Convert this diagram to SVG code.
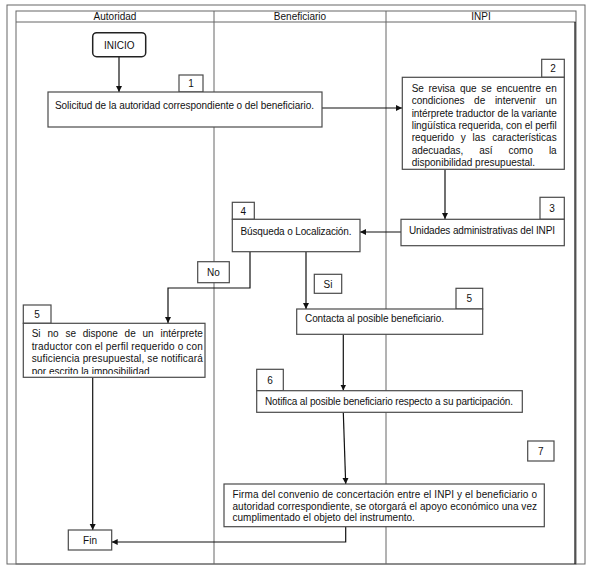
<svg xmlns="http://www.w3.org/2000/svg" width="590" height="568" viewBox="0 0 590 568">
<style>
text{font-family:"Liberation Sans",Arial,sans-serif;font-size:10px;fill:#111}
.c{text-anchor:middle}
.box{fill:#fff;stroke:#4a4a4a;stroke-width:1.2}
.frame{fill:none;stroke:#666;stroke-width:1}
.ln{fill:none;stroke:#111;stroke-width:1.2}
.conn{fill:none;stroke:#111;stroke-width:1.2;marker-end:url(#ah)}
</style>
<defs>
<marker id="ah" markerUnits="userSpaceOnUse" markerWidth="7" markerHeight="7" refX="6" refY="3" orient="auto">
<path d="M0,0 L6,3 L0,6 z" fill="#111"/>
</marker>
<clipPath id="clip5"><rect x="23" y="323" width="182" height="51"/></clipPath>
</defs>
<rect width="590" height="568" fill="#fff"/>
<g id="frame">
<rect class="frame" x="7" y="5" width="578" height="559"/>
<rect class="frame" x="16" y="11" width="560" height="553"/>
<line class="frame" x1="16" y1="22" x2="576" y2="22"/>
<line class="ln" x1="575" y1="22" x2="575" y2="564" stroke-width="1"/>
<line class="frame" x1="214" y1="11" x2="214" y2="564" stroke="#444"/>
<line class="frame" x1="386" y1="11" x2="386" y2="564" stroke="#444"/>
<text class="c" x="115" y="20">Autoridad</text>
<text class="c" x="300" y="20">Beneficiario</text>
<text class="c" x="481" y="20">INPI</text>
</g>
<g id="connectors">
<line class="conn" x1="119" y1="57" x2="119" y2="92"/>
<line class="conn" x1="322" y1="108" x2="402" y2="108"/>
<line class="conn" x1="445" y1="169.5" x2="445" y2="219"/>
<line class="conn" x1="401" y1="232" x2="360" y2="232"/>
<polyline class="conn" points="250,252 250,288 168,288 168,323"/>
<line class="conn" x1="306" y1="252" x2="306" y2="309"/>
<line class="conn" x1="343.3" y1="334.5" x2="343.3" y2="390.5"/>
<line class="conn" x1="343.3" y1="412.5" x2="345.7" y2="484"/>
<polyline class="conn" points="345.7,527 345.7,542 111.7,542"/>
<line class="conn" x1="92.7" y1="377.5" x2="92.7" y2="530"/>
</g>
<g id="inicio">
<rect x="92.7" y="32.7" width="53" height="24" rx="4" fill="#fff" stroke="#222" stroke-width="1.5"/>
<text class="c" x="119.2" y="48.5">INICIO</text>
</g>
<g id="n1">
<rect class="box" x="179" y="75" width="24" height="17"/>
<text class="c" x="191" y="87">1</text>
<rect class="box" x="48" y="92" width="274" height="35"/>
<text x="55" y="108.5" textLength="259" lengthAdjust="spacing">Solicitud de la autoridad correspondiente o del beneficiario.</text>
</g>
<g id="n2">
<rect class="box" x="541.7" y="59.3" width="22.6" height="18"/>
<text class="c" x="553" y="72">2</text>
<rect class="box" x="402.3" y="77.3" width="162" height="92"/>
<text y="91.8"><tspan x="411.7">Se</tspan><tspan x="428.5">revisa</tspan><tspan x="459.9">que</tspan><tspan x="481.2">se</tspan><tspan x="496.5">encuentre</tspan><tspan x="545.6">en</tspan></text>
<text y="104.2"><tspan x="411.7">condiciones</tspan><tspan x="474.1">de</tspan><tspan x="494.9">intervenir</tspan><tspan x="545.6">un</tspan></text>
<text x="411.7" y="116.6" textLength="145" lengthAdjust="spacing">intérprete traductor de la variante</text>
<text x="411.7" y="129" textLength="145" lengthAdjust="spacing">lingüística requerida, con el perfil</text>
<text y="141.4"><tspan x="411.7">requerido</tspan><tspan x="460.7">y</tspan><tspan x="472.6">las</tspan><tspan x="492.2">características</tspan></text>
<text y="153.8"><tspan x="411.7">adecuadas,</tspan><tspan x="479.3">así</tspan><tspan x="508.5">como</tspan><tspan x="548.9">la</tspan></text>
<text x="411.7" y="166.2">disponibilidad presupuestal.</text>
</g>
<g id="n3">
<rect class="box" x="540" y="197.3" width="24.3" height="22"/>
<text class="c" x="552" y="212">3</text>
<rect class="box" x="401" y="219.3" width="163.3" height="26.4"/>
<text x="409" y="233.5" textLength="146" lengthAdjust="spacing">Unidades administrativas del INPI</text>
</g>
<g id="n4">
<rect class="box" x="232.3" y="202.3" width="22" height="17"/>
<text class="c" x="243.3" y="215">4</text>
<rect class="box" x="232.3" y="219.3" width="127.7" height="32.4"/>
<text x="240.5" y="235" textLength="111" lengthAdjust="spacing">Búsqueda o Localización.</text>
</g>
<g id="lbl-no">
<rect class="box" x="197.7" y="261.7" width="31.6" height="21"/>
<text class="c" x="213.5" y="275.5">No</text>
</g>
<g id="lbl-si">
<rect class="box" x="314.3" y="274.3" width="27.4" height="19"/>
<text class="c" x="328" y="287.5">Si</text>
</g>
<g id="n5b">
<rect class="box" x="456" y="288.3" width="26.7" height="20.7"/>
<text class="c" x="469.3" y="302">5</text>
<rect class="box" x="296.7" y="309" width="186" height="25.3"/>
<text x="305" y="322" textLength="139" lengthAdjust="spacing">Contacta al posible beneficiario.</text>
</g>
<g id="n5a">
<rect class="box" x="23.3" y="305" width="27.7" height="18.3"/>
<text class="c" x="37" y="318">5</text>
<rect class="box" x="23.3" y="323.3" width="181.7" height="54"/>
<text y="337"><tspan x="31.7">Si</tspan><tspan x="47.4">no</tspan><tspan x="65.4">se</tspan><tspan x="82.8">dispone</tspan><tspan x="124.6">de</tspan><tspan x="142.5">un</tspan><tspan x="160.5">intérprete</tspan></text>
<text x="31.7" y="349.5" textLength="171" lengthAdjust="spacing">traductor con el perfil requerido o con</text>
<text x="31.7" y="362" textLength="171" lengthAdjust="spacing">suficiencia presupuestal, se notificará</text>
<text x="31.7" y="374.8" clip-path="url(#clip5)">por escrito la imposibilidad</text>
</g>
<g id="n6">
<rect class="box" x="256.7" y="369.3" width="26.6" height="21.4"/>
<text class="c" x="270" y="383.5">6</text>
<rect class="box" x="256.7" y="390.7" width="265.6" height="21.6"/>
<text x="265" y="405" textLength="248" lengthAdjust="spacing">Notifica al posible beneficiario respecto a su participación.</text>
</g>
<g id="n7">
<rect class="box" x="527.7" y="441" width="26.3" height="20"/>
<text class="c" x="540.8" y="454.5">7</text>
<rect class="box" x="224" y="484" width="320.3" height="42.7"/>
<text x="232.5" y="498" textLength="304.5" lengthAdjust="spacing">Firma del convenio de concertación entre el INPI y el beneficiario o</text>
<text x="232.5" y="509.5" textLength="304.5" lengthAdjust="spacing">autoridad correspondiente, se otorgará el apoyo económico una vez</text>
<text x="232.5" y="521">cumplimentado el objeto del instrumento.</text>
</g>
<g id="fin">
<rect class="box" x="68.3" y="530" width="43.4" height="20"/>
<text class="c" x="90" y="543.5">Fin</text>
</g>
</svg>
